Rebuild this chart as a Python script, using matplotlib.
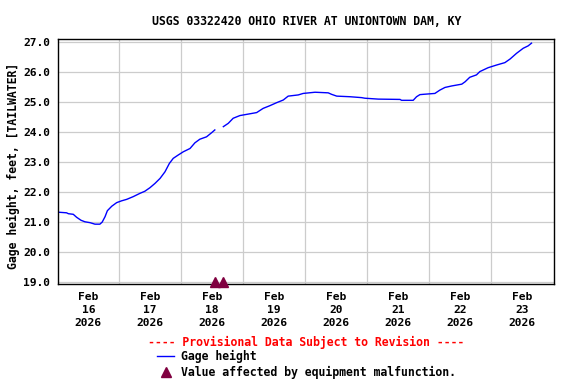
import numpy as np
import matplotlib
matplotlib.use('Agg')
import matplotlib.pyplot as plt
from matplotlib.lines import Line2D


####################################################
##                 Data
####################################################

# hours since Feb 16 2026 00:00, gage height in feet
hours = [-11.6, -8.4, -7.7, -5.8, -4.5, -2.8, -1.3, 0.7, 2.6, 4.5, 5.4, 6.5,
         7.4, 9.1, 11.0, 12.9, 14.9, 17.4, 20.0, 21.9, 23.9, 25.8, 27.8, 29.7,
         31.4, 32.9, 34.8, 36.8, 39.4, 41.3, 43.2, 45.8, 47.8, 49.0,
         52.3, 54.2, 56.1, 58.7, 61.3, 65.2, 67.7, 70.3, 72.9, 75.5, 77.4,
         81.3, 83.2, 87.8, 92.9, 94.2, 96.2, 101.3, 105.8, 107.1, 112.3,
         120.7, 121.3, 125.8, 127.1, 128.4, 129.7, 134.2, 136.1, 138.1, 140.7,
         144.6, 145.9, 147.7, 150.3, 151.6, 154.8, 158.1, 161.3, 163.3, 165.8,
         168.4, 170.3, 171.6]
gage = [21.32, 21.30, 21.27, 21.25, 21.15, 21.05, 21.00, 20.97, 20.92, 20.92,
        20.99, 21.17, 21.37, 21.52, 21.64, 21.70, 21.75, 21.84, 21.95, 22.02,
        22.14, 22.28, 22.45, 22.67, 22.95, 23.12, 23.23, 23.34, 23.45, 23.64,
        23.76, 23.84, 23.98, 24.07,
        24.18, 24.29, 24.46, 24.55, 24.59, 24.65, 24.79, 24.88, 24.98, 25.07,
        25.20, 25.24, 25.29, 25.33, 25.31, 25.26, 25.20, 25.18, 25.15, 25.13,
        25.10, 25.09, 25.06, 25.06, 25.18, 25.25, 25.26, 25.29, 25.40, 25.49,
        25.54, 25.60, 25.68, 25.83, 25.91, 26.02, 26.15, 26.24, 26.32, 26.44,
        26.63, 26.80, 26.88, 26.97]

# equipment malfunction flags (data missing between them)
flag_hours = [49.0, 52.3]
flag_gage = [19.0, 19.0]

day_labels = ['Feb\n16\n2026', 'Feb\n17\n2026', 'Feb\n18\n2026', 'Feb\n19\n2026',
              'Feb\n20\n2026', 'Feb\n21\n2026', 'Feb\n22\n2026', 'Feb\n23\n2026']

title = 'USGS 03322420 OHIO RIVER AT UNIONTOWN DAM, KY'

####################################################
##                 Plot
####################################################

plt.rcParams['font.family'] = ['DejaVu Sans Mono']
plt.rcParams['font.weight'] = 'bold'
fs = 8.3
fs_tick = 8.1

fig = plt.figure(figsize=(5.76, 3.84), dpi=100)
ax = fig.add_axes([0.1012, 0.2604, 0.861, 0.6373])

# break the line across the malfunction period
h = np.array(hours)
g = np.array(gage)
brk = np.searchsorted(h, flag_hours[1])
h = np.insert(h, brk, np.nan)
g = np.insert(g, brk, np.nan)

ax.plot(h, g, color='#0000ff', lw=1.0)
ax.plot(flag_hours, flag_gage, linestyle='none', marker='^', markersize=6.5,
        color='#800040', clip_on=False, zorder=5)

ax.set_xlim(-11.6, 180.4)
ax.set_ylim(18.92, 27.1)

ax.set_yticks(np.arange(19, 28, 1))
ax.set_yticklabels(['%.1f' % v for v in np.arange(19, 28, 1)], fontsize=fs_tick,
                   fontweight='bold')
ax.set_xticks(np.arange(0, 24 * 8, 24))
ax.set_xticklabels(day_labels, fontsize=fs_tick, fontweight='bold', linespacing=1.38)
ax.set_xticks(np.arange(12, 24 * 7, 24), minor=True)
ax.tick_params(axis='both', which='both', length=0)
ax.tick_params(axis='x', pad=6)
ax.tick_params(axis='y', pad=6)

ax.grid(True, axis='y', which='major', color='#cccccc', lw=0.9)
ax.grid(True, axis='x', which='minor', color='#cccccc', lw=0.9)
ax.grid(False, axis='x', which='major')
ax.set_axisbelow(True)
for sp in ax.spines.values():
    sp.set_color('black')
    sp.set_linewidth(1.0)

ax.set_title(title, fontsize=fs, fontweight='bold', pad=10.5)
ax.set_ylabel('Gage height, feet, [TAILWATER]', fontsize=fs, fontweight='bold')
ax.yaxis.set_label_coords(-0.078, 0.482)

# legend block
fig.text(0.5318, 1 - 342.7 / 384, '---- Provisional Data Subject to Revision ----',
         color='red', fontsize=fs, fontweight='bold', ha='center', va='center')
handles = [Line2D([], [], color='#0000ff', lw=1.0),
           Line2D([], [], linestyle='none', marker='^', markersize=6.5, color='#800040')]
fig.legend(handles, ['Gage height', 'Value affected by equipment malfunction.'],
           loc='upper left', bbox_to_anchor=(157 / 576, 1 - 349.5 / 384),
           frameon=False, prop={'weight': 'bold', 'size': fs},
           borderpad=0, borderaxespad=0, handlelength=1.5, handletextpad=0.55,
           labelspacing=0.3)

fig.savefig('out.png', dpi=100)
